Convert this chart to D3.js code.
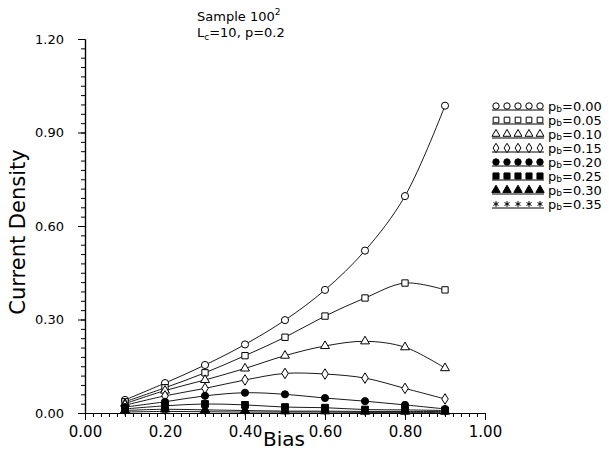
<!DOCTYPE html>
<html>
<head>
<meta charset="utf-8">
<script src="https://cdn.jsdelivr.net/npm/d3@7"></script>
<style>
  html, body { margin: 0; padding: 0; background: #fff; }
  svg { display: block; }
  text { font-family: "DejaVu Sans", "Liberation Sans", sans-serif; fill: #000; }
</style>
</head>
<body>
<svg id="chart" width="609" height="452"></svg>
<script>
// Bias values shared by every curve
const bias = [0.1, 0.2, 0.3, 0.4, 0.5, 0.6, 0.7, 0.8, 0.9];

// Current density for each bond-dilution probability p_b
const pb000 = [0.042, 0.096, 0.154, 0.220, 0.298, 0.395, 0.521, 0.696, 0.986];
const pb005 = [0.036, 0.081, 0.129, 0.184, 0.243, 0.311, 0.369, 0.417, 0.395];
const pb010 = [0.030, 0.072, 0.106, 0.143, 0.184, 0.215, 0.230, 0.211, 0.144];
const pb015 = [0.025, 0.055, 0.079, 0.106, 0.127, 0.125, 0.112, 0.079, 0.045];
const pb020 = [0.019, 0.036, 0.055, 0.065, 0.060, 0.048, 0.038, 0.026, 0.013];
const pb025 = [0.013, 0.023, 0.029, 0.026, 0.019, 0.017, 0.011, 0.010, 0.008];
const pb030 = [0.008, 0.012, 0.010, 0.008, 0.006, 0.006, 0.005, 0.005, 0.005];
const pb035 = [0.003, 0.005, 0.004, 0.003, 0.003, 0.003, 0.002, 0.002, 0.002];

const seriesLabels = ["0.00", "0.05", "0.10", "0.15", "0.20", "0.25", "0.30", "0.35"];
const seriesValues = [pb000, pb005, pb010, pb015, pb020, pb025, pb030, pb035];

// Axis tick labels
const xTickLabels = ["0.00", "0.20", "0.40", "0.60", "0.80", "1.00"];
const yTickLabels = ["0.00", "0.30", "0.60", "0.90", "1.20"];

const svg = d3.select("#chart");

const x = d3.scaleLinear().domain([0, 1]).range([85, 485]);
const y = d3.scaleLinear().domain([0, 1.2]).range([413, 39]);

// Marker shapes, one per series
const diamond = {
  draw(ctx, size) {
    const w = Math.sqrt(size) * 0.42, h = Math.sqrt(size) * 0.68;
    ctx.moveTo(0, -h); ctx.lineTo(w, 0); ctx.lineTo(0, h); ctx.lineTo(-w, 0); ctx.closePath();
  }
};
const markers = [
  { type: d3.symbolCircle,   size: 40, fill: false },
  { type: d3.symbolSquare,   size: 40, fill: false },
  { type: d3.symbolTriangle, size: 34, fill: false },
  { type: diamond,           size: 60, fill: false },
  { type: d3.symbolCircle,   size: 40, fill: true },
  { type: d3.symbolSquare,   size: 46, fill: true },
  { type: d3.symbolTriangle, size: 38, fill: true },
  { type: d3.symbolAsterisk, size: 30, fill: false }
];

// ---- axes ----
const xMajor = d3.range(0, 1.0001, 0.2);
const xMinor = d3.range(0, 1.0001, 0.02);
const yMajor = d3.range(0, 1.2001, 0.3);
const yMinor = d3.range(0, 1.2001, 0.03);

const gx = svg.append("g").attr("transform", `translate(0,${y(0)})`);
gx.call(d3.axisBottom(x).tickValues(xMinor).tickSize(4).tickSizeOuter(0).tickFormat(""));
gx.append("g").call(d3.axisBottom(x).tickValues(xMajor).tickSize(7).tickSizeOuter(0)
  .tickFormat((d, i) => xTickLabels[i]));
gx.selectAll("path.domain").attr("stroke", "#000").attr("stroke-width", 1.2);
gx.selectAll(".tick line").attr("stroke", "#000");
gx.selectAll(".tick text").attr("font-size", 15).attr("dy", "0.9em")
  .attr("font-family", "DejaVu Sans").attr("fill", "#000");

const gy = svg.append("g").attr("transform", `translate(${x(0)},0)`);
gy.call(d3.axisLeft(y).tickValues(yMinor).tickSize(4).tickSizeOuter(0).tickFormat(""));
gy.append("g").call(d3.axisLeft(y).tickValues(yMajor).tickSize(7).tickSizeOuter(0)
  .tickPadding(14).tickFormat((d, i) => yTickLabels[i]));
gy.selectAll("path.domain").attr("stroke", "#000").attr("stroke-width", 1.2);
gy.selectAll(".tick line").attr("stroke", "#000");
gy.selectAll(".tick text").attr("font-size", 13)
  .attr("font-family", "DejaVu Sans").attr("fill", "#000");

// Axis titles
svg.append("text").attr("x", 284).attr("y", 446).attr("text-anchor", "middle")
  .attr("font-size", 20).text("Bias");
svg.append("text").attr("transform", "translate(25,232) rotate(-90)")
  .attr("text-anchor", "middle").attr("font-size", 21).text("Current Density");

// Header
const head = svg.append("text").attr("x", 197).attr("y", 21).attr("font-size", 13);
head.append("tspan").text("Sample 100");
head.append("tspan").attr("font-size", 9).attr("dy", -6).text("2");
const head2 = svg.append("text").attr("x", 197).attr("y", 37).attr("font-size", 13);
head2.append("tspan").text("L");
head2.append("tspan").attr("font-size", 9).attr("dy", 3).text("c");
head2.append("tspan").attr("dy", -3).text("=10,  p=0.2");

// ---- curves and markers ----
const line = d3.line()
  .x(d => x(d[0]))
  .y(d => y(d[1]))
  .curve(d3.curveCatmullRom.alpha(0.5));

const plot = svg.append("g");
seriesValues.forEach((vals, i) => {
  const pts = bias.map((b, j) => [b, vals[j]]);
  plot.append("path").datum(pts).attr("d", line)
    .attr("fill", "none").attr("stroke", "#000").attr("stroke-width", 0.9);
});
seriesValues.forEach((vals, i) => {
  const m = markers[i];
  const sym = d3.symbol().type(m.type).size(m.size);
  plot.append("g").selectAll("path").data(bias.map((b, j) => [b, vals[j]])).join("path")
    .attr("transform", d => `translate(${x(d[0])},${y(d[1])})`)
    .attr("d", sym)
    .attr("fill", m.fill ? "#000" : "#fff")
    .attr("stroke", "#000").attr("stroke-width", 1);
});

// ---- legend ----
const legend = svg.append("g");
seriesLabels.forEach((lab, i) => {
  const cy = 106 + i * 14;
  const m = markers[i];
  const sym = d3.symbol().type(m.type).size(m.size * 0.8);
  legend.append("line").attr("x1", 492).attr("x2", 544).attr("y1", cy + 4).attr("y2", cy + 4)
    .attr("stroke", "#000").attr("stroke-width", 1);
  d3.range(5).forEach(k => {
    legend.append("path").attr("transform", `translate(${496 + k * 11},${cy})`)
      .attr("d", sym).attr("fill", m.fill ? "#000" : "#fff")
      .attr("stroke", "#000").attr("stroke-width", 1);
  });
  const t = legend.append("text").attr("x", 548).attr("y", cy + 5).attr("font-size", 13);
  t.append("tspan").text("p");
  t.append("tspan").attr("font-size", 9).attr("dy", 1).text("b");
  t.append("tspan").attr("dy", -1).text("=" + lab);
});
</script>
</body>
</html>
